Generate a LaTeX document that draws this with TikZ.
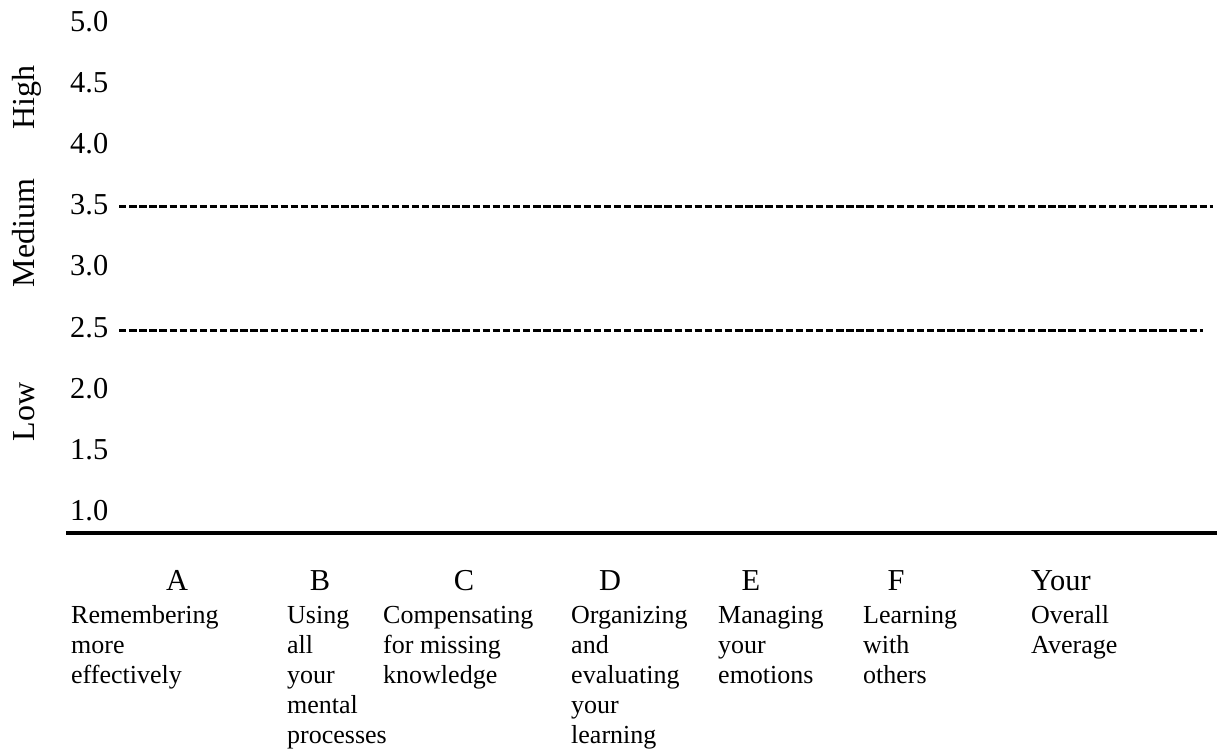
\documentclass[tikz,border=0pt]{standalone}
\usepackage{fontspec}
\setmainfont{Liberation Serif}
\begin{document}
\begin{tikzpicture}[x=1pt,y=-1pt,
  big/.style={font=\fontsize{30.4}{36}\selectfont, inner sep=0pt},
  small/.style={font=\fontsize{26}{30}\selectfont, inner sep=0pt, align=left, anchor=north west},
  tick/.style={big, anchor=base west},
  band/.style={font=\fontsize{32}{38}\selectfont, inner sep=0pt, rotate=90, anchor=base},
  head/.style={big, anchor=base},
  guide/.style={line width=3pt, dash pattern=on 7.4pt off 2.7pt},
  axis/.style={line width=4pt}]
\useasboundingbox (0,0) rectangle (1217,751);
% tick labels
\node[tick] (t50) at (70,32) {5.0};
\node[tick] (t45) at (70,93) {4.5};
\node[tick] (t40) at (70,154) {4.0};
\node[tick] (t35) at (70,215) {3.5};
\node[tick] (t30) at (70,276) {3.0};
\node[tick] (t25) at (70,337) {2.5};
\node[tick] (t20) at (70,398) {2.0};
\node[tick] (t15) at (70,459) {1.5};
\node[tick] (t10) at (70,520) {1.0};
% band labels
\node[band] (high) at (34,98) {High};
\node[band] (medium) at (34,233) {Medium};
\node[band] (low) at (34,412) {Low};
% guide lines
\coordinate (g35a) at (119,207);
\coordinate (g35b) at (1213,207);
\coordinate (g25a) at (119,330);
\coordinate (g25b) at (1203,330);
\draw[guide] (g35a) -- (g35b);
\draw[guide] (g25a) -- (g25b);
% axis
\coordinate (ax1) at (66,533);
\coordinate (ax2) at (1217,533);
\draw[axis] (ax1) -- (ax2);
% headers
\node[head] (hA) at (177,590) {A};
\node[head] (hB) at (320,590) {B};
\node[head] (hC) at (464,590) {C};
\node[head] (hD) at (610,590) {D};
\node[head] (hE) at (751,590) {E};
\node[head] (hF) at (896,590) {F};
\node[big, anchor=base west] (hY) at (1031,590) {Your};
% descriptions
\node[small] (dA) at (71,602) {\strut Remembering\\more\\effectively};
\node[small] (dB) at (287,602) {\strut Using\\all\\your\\mental\\processes};
\node[small] (dC) at (383,602) {\strut Compensating\\for missing\\knowledge};
\node[small] (dD) at (571,602) {\strut Organizing\\and\\evaluating\\your\\learning};
\node[small] (dE) at (718,602) {\strut Managing\\your\\emotions};
\node[small] (dF) at (863,602) {\strut Learning\\with\\others};
\node[small] (dY) at (1031,602) {\strut Overall\\Average};
\end{tikzpicture}
\end{document}
